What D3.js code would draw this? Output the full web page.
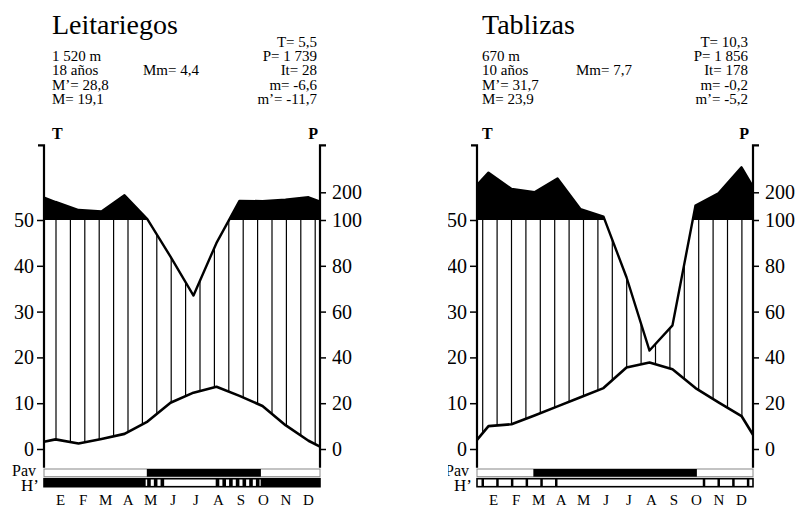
<!DOCTYPE html>
<html>
<head>
<meta charset="utf-8">
<script src="https://cdnjs.cloudflare.com/ajax/libs/d3/7.8.5/d3.min.js"></script>
<style>
body {margin:0; background:#fff;}
svg text {font-family:"Liberation Serif","DejaVu Serif",serif; fill:#000;}
.small {font-size:15px;}
.axis text {font-size:20px;}
</style>
</head>
<body>
<div id="chart"></div>
<script>
// month initials (Spanish)
var months = ["E","F","M","A","M","J","J","A","S","O","N","D"];
var tempTicks = [0,10,20,30,40,50];
var precTicks = [0,20,40,60,80,100,200];

// Leitariegos
var leitName = "Leitariegos";
var leitTemp = [2.1,1.2,2.2,3.3,6.0,10.1,12.3,13.6,11.6,9.4,5.2,1.8];
var leitTempEdge = [1.6,0.5];
var leitPrec = [165,136,131,189,102,84,67,90,169,168,173,182];
var leitPrecEdge = [181,166];
var leitInfoLeft = ["1 520 m","18 años","M’= 28,8","M= 19,1"];
var leitInfoRight = ["T= 5,5","P= 1 739","It= 28","m= -6,6","m’= -11,7"];
var leitMm = "Mm= 4,4";
var leitPav = [[4.47,9.43]];
var leitFrost = [["b",0,4.42],["s",4.42,5.32],["s",7.4,9.42],["b",9.42,12]];

// Tablizas
var tabName = "Tablizas";
var tabTemp = [5.0,5.4,7.3,9.3,11.3,13.3,17.8,18.9,17.4,13.3,10.2,7.2];
var tabTempEdge = [2.0,3.1];
var tabPrec = [271,212,200,250,139,112,75,43,54,152,196,290];
var tabPrecEdge = [226,220];
var tabInfoLeft = ["670 m","10 años","M’= 31,7","M= 23,9"];
var tabInfoRight = ["T= 10,3","P= 1 856","It= 178","m= -0,2","m’= -5,2"];
var tabMm = "Mm= 7,7";
var tabPav = [[2.45,9.56]];
var tabFrost = [["s",0,3.43],["s",9.62,12]];

var W = 801, H = 508;
var svg = d3.select("#chart").append("svg").attr("width",W).attr("height",H);

// shared scales (panel-local coordinates)
var x = d3.scaleLinear().domain([0,12]).range([44,320]);
var yT = d3.scaleLinear().domain([0,50]).range([449,220]);
var yP = d3.scaleLinear().domain([0,100,200]).range([yT(0),yT(50),yT(50)-27.7]);
var tLow = -4.1, tHigh = 66.3;   // axis extent in degrees
var pos = [0].concat(d3.range(12).map(function(i){return i+0.5;})).concat([12]);

function drawPanel(dx, cfg) {
  var g = svg.append("g").attr("transform","translate("+dx+",0)");
  if (cfg.clipX) {
    svg.append("clipPath").attr("id","clip"+dx).append("rect")
      .attr("x",cfg.clipX).attr("y",0).attr("width",420).attr("height",H);
    g.attr("clip-path","url(#clip"+dx+")");
  }

  var tVals = [cfg.tempEdge[0]].concat(cfg.temp).concat([cfg.tempEdge[1]]);
  var pVals = [cfg.precEdge[0]].concat(cfg.prec).concat([cfg.precEdge[1]]);
  var tPts = pos.map(function(m,i){return [x(m), yT(tVals[i])];});
  var pPts = pos.map(function(m,i){return [x(m), yP(pVals[i])];});
  var tAt = d3.scaleLinear().domain(tPts.map(function(d){return d[0];})).range(tPts.map(function(d){return d[1];}));
  var pAt = d3.scaleLinear().domain(pPts.map(function(d){return d[0];})).range(pPts.map(function(d){return d[1];}));

  // humid period hatching
  var hx = d3.range(x(0)+cfg.hatchOff, x(12), 14.4);
  g.append("g").selectAll("line").data(hx).enter().append("line")
    .attr("x1",function(d){return d;}).attr("x2",function(d){return d;})
    .attr("y1",function(d){return Math.max(yP(100), pAt(d));})
    .attr("y2",function(d){return tAt(d);})
    .attr("stroke","#000").attr("stroke-width",1.2)
    .filter(function(d){return tAt(d) - Math.max(yP(100), pAt(d)) < 1;}).remove();

  // precipitation above 100 mm in black
  var cid = "wet"+dx;
  svg.append("clipPath").attr("id",cid).append("rect")
    .attr("x",x(0)).attr("y",0).attr("width",x(12)-x(0)).attr("height",yP(100));
  g.append("path")
    .attr("clip-path","url(#"+cid+")")
    .attr("d", d3.area().x(function(d){return d[0];}).y0(yP(100)).y1(function(d){return d[1];})(pPts))
    .attr("fill","#000");

  var line = d3.line();
  g.append("path").attr("d",line(pPts)).attr("fill","none").attr("stroke","#000").attr("stroke-width",2.4).attr("stroke-linejoin","round");
  g.append("path").attr("d",line(tPts)).attr("fill","none").attr("stroke","#000").attr("stroke-width",2.6).attr("stroke-linejoin","round");

  // axes
  var ax = g.append("g").attr("class","axis").attr("transform","translate("+x(0)+",0)")
    .call(d3.axisLeft(yT).tickValues(tempTicks).tickSize(7).tickPadding(3).tickFormat(d3.format("d")));
  ax.select(".domain").attr("d","M-6,"+yT(tHigh)+"H0V"+yT(tLow)).attr("stroke-width",2.2);
  ax.selectAll(".tick line").attr("stroke-width",1.5);
  var ay = g.append("g").attr("class","axis").attr("transform","translate("+x(12)+",0)")
    .call(d3.axisRight(yP).tickValues(precTicks).tickSize(6).tickPadding(6).tickFormat(d3.format("d")));
  ay.select(".domain").attr("d","M6,"+yT(tHigh)+"H0V"+yT(tLow)).attr("stroke-width",2.2);
  ay.selectAll(".tick line").attr("stroke-width",1.5);
  g.selectAll(".axis text").attr("font-family",null).attr("font-size",null);

  // texts
  g.append("text").attr("x",cfg.tx).attr("y",34).attr("font-size",28).text(cfg.name);
  g.selectAll(".il").data(cfg.infoLeft).enter().append("text").attr("class","small")
    .attr("x",cfg.tx).attr("y",function(d,i){return 61+i*14.4;}).text(function(d){return d;});
  g.selectAll(".ir").data(cfg.infoRight).enter().append("text").attr("class","small")
    .attr("x",cfg.rx).attr("y",function(d,i){return 46.5+i*14.4;}).attr("text-anchor","end").text(function(d){return d;});
  g.append("text").attr("class","small").attr("x",143).attr("y",75.4).text(cfg.mm);
  g.append("text").attr("x",cfg.tx).attr("y",139).attr("font-size",16).attr("font-weight","bold").text("T");
  g.append("text").attr("x",cfg.rx+1).attr("y",139).attr("font-size",16).attr("font-weight","bold").attr("text-anchor","end").text("P");

  // Pav band
  var pavY = 469, pavH = 7.7, hY = 478.7, hH = 8;
  g.append("rect").attr("x",x(0)).attr("y",pavY).attr("width",x(12)-x(0)).attr("height",pavH)
    .attr("fill","#fff").attr("stroke","#888").attr("stroke-width",1);
  g.selectAll(".pav").data(cfg.pav).enter().append("rect")
    .attr("x",function(d){return x(d[0]);}).attr("y",pavY).attr("width",function(d){return x(d[1])-x(d[0]);})
    .attr("height",pavH).attr("fill","#000");

  // frost band H'
  g.append("rect").attr("x",x(0)).attr("y",hY).attr("width",x(12)-x(0)).attr("height",hH)
    .attr("fill","#fff").attr("stroke","#000").attr("stroke-width",1.6);
  cfg.frost.forEach(function(s){
    if (s[0] === "b") {
      g.append("rect").attr("x",x(s[1])).attr("y",hY).attr("width",x(s[2])-x(s[1])).attr("height",hH).attr("fill","#000");
    } else {
      var bars = d3.range(x(s[1])+cfg.barOff, x(s[2]), cfg.barStep);
      g.append("g").selectAll("rect").data(bars).enter().append("rect")
        .attr("x",function(d){return d;}).attr("y",hY).attr("width",cfg.barW).attr("height",hH).attr("fill","#000");
    }
  });
  g.append("text").attr("x",36).attr("y",476).attr("text-anchor","end").attr("font-size",16).text("Pav");
  g.append("text").attr("x",39).attr("y",490.5).attr("text-anchor","end").attr("font-size",17).text("H’");

  // month labels
  var mx = d3.scalePoint().domain(d3.range(12)).range([x(0.72), x(11.5)]);
  g.selectAll(".mon").data(months).enter().append("text")
    .attr("x",function(d,i){return mx(i);}).attr("y",505).attr("text-anchor","middle").attr("font-size",15)
    .text(function(d){return d;});
}

drawPanel(0, {name:leitName, temp:leitTemp, tempEdge:leitTempEdge, prec:leitPrec, precEdge:leitPrecEdge,
  infoLeft:leitInfoLeft, infoRight:leitInfoRight, mm:leitMm, pav:leitPav, frost:leitFrost,
  tx:52, rx:317, hatchOff:12, barOff:1.5, barStep:6.7, barW:3.6});
drawPanel(433, {name:tabName, temp:tabTemp, tempEdge:tabTempEdge, prec:tabPrec, precEdge:tabPrecEdge,
  infoLeft:tabInfoLeft, infoRight:tabInfoRight, mm:tabMm, pav:tabPav, frost:tabFrost,
  tx:49, rx:315, hatchOff:5.7, barOff:4.5, barStep:14.7, barW:2.5, clipX:15});
</script>
</body>
</html>
